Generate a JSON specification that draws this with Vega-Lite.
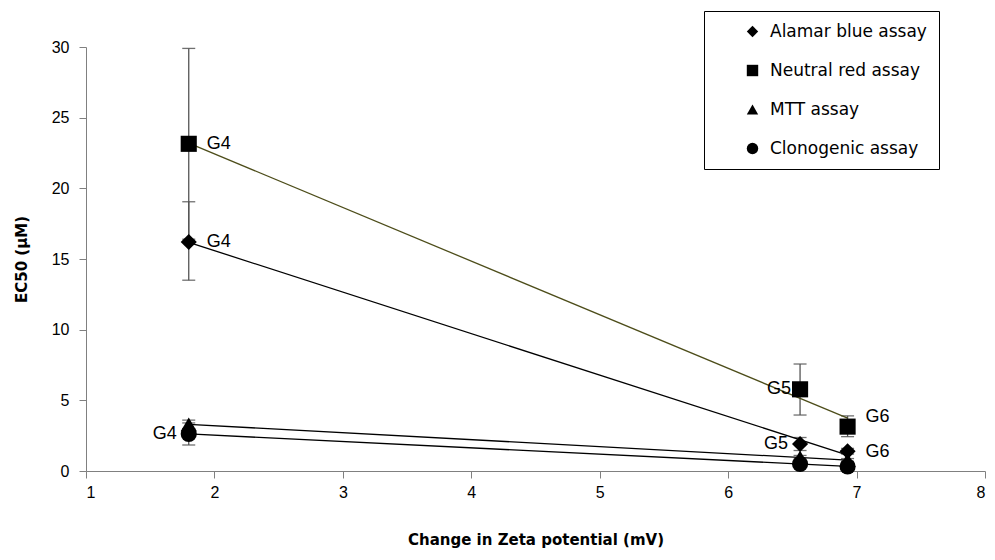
{
  "$schema": "https://vega.github.io/schema/vega-lite/v6.json",
  "width": 899,
  "height": 424,
  "autosize": {"type": "none"},
  "padding": {"left": 86, "top": 47, "right": 10, "bottom": 89},
  "background": "white",
  "config": {
    "view": {"stroke": null},
    "font": "Liberation Sans",
    "axis": {
      "grid": false,
      "domainColor": "#808080",
      "tickColor": "#808080",
      "tickSize": 7,
      "labelFont": "Liberation Sans",
      "labelFontSize": 16,
      "labelColor": "black",
      "titleFont": "DejaVu Sans",
      "titleFontSize": 15,
      "titleFontWeight": "bold",
      "titleColor": "black"
    },
    "legend": {
      "orient": "none",
      "legendX": 618,
      "legendY": -36,
      "strokeColor": "black",
      "fillColor": "white",
      "padding": 12,
      "labelFont": "DejaVu Sans",
      "labelFontSize": 17,
      "labelLimit": 400,
      "labelColor": "black",
      "rowPadding": 21,
      "symbolSize": 130,
      "symbolOffset": 28,
      "symbolFillColor": "black",
      "symbolStrokeColor": "black",
      "symbolStrokeWidth": 0,
      "labelOffset": 9
    }
  },
  "data": {
    "values": [
      {"series": "Alamar blue assay", "group": "G4", "x": 1.8, "y": 16.2, "lo": 13.5, "hi": 19.05},
      {"series": "Alamar blue assay", "group": "G5", "x": 6.56, "y": 1.91, "lo": 1.45, "hi": 2.37},
      {"series": "Alamar blue assay", "group": "G6", "x": 6.93, "y": 1.4, "lo": 1.2, "hi": 1.6},
      {"series": "Neutral red assay", "group": "G4", "x": 1.8, "y": 23.15, "lo": 16.4, "hi": 29.9},
      {"series": "Neutral red assay", "group": "G5", "x": 6.56, "y": 5.78, "lo": 3.96, "hi": 7.57},
      {"series": "Neutral red assay", "group": "G6", "x": 6.93, "y": 3.14, "lo": 2.43, "hi": 3.9},
      {"series": "MTT assay", "group": "G4", "x": 1.8, "y": 3.3, "lo": 3.0, "hi": 3.6},
      {"series": "MTT assay", "group": "G5", "x": 6.56, "y": 0.95, "lo": 0.8, "hi": 1.1},
      {"series": "MTT assay", "group": "G6", "x": 6.93, "y": 0.78, "lo": 0.68, "hi": 0.88},
      {"series": "Clonogenic assay", "group": "G4", "x": 1.8, "y": 2.62, "lo": 1.84, "hi": 3.4},
      {"series": "Clonogenic assay", "group": "G5", "x": 6.56, "y": 0.5, "lo": 0.4, "hi": 0.6},
      {"series": "Clonogenic assay", "group": "G6", "x": 6.93, "y": 0.32, "lo": 0.26, "hi": 0.38}
    ]
  },
  "layer": [
    {
      "mark": {"type": "errorbar", "ticks": {"size": 13, "thickness": 1.3, "color": "#333333"}, "rule": {"strokeWidth": 1.3, "color": "#555555"}},
      "encoding": {
        "x": {
          "field": "x",
          "type": "quantitative",
          "scale": {"domain": [1, 8], "nice": false},
          "axis": {"values": [1, 2, 3, 4, 5, 6, 7, 8], "format": "d", "title": "Change in Zeta potential (mV)", "titlePadding": 32, "labelPadding": 6}
        },
        "y": {
          "field": "lo",
          "type": "quantitative",
          "scale": {"domain": [0, 30], "nice": false},
          "axis": {"values": [0, 5, 10, 15, 20, 25, 30], "format": "d", "title": "EC50 (µM)", "titlePadding": 22, "labelPadding": 10}
        },
        "y2": {"field": "hi"}
      }
    },
    {
      "transform": [
        {"filter": "datum.series == 'Neutral red assay'"},
        {"regression": "y", "on": "x"}
      ],
      "mark": {"type": "line", "strokeWidth": 1.3, "color": "#4d4d1a"},
      "encoding": {
        "x": {"field": "x", "type": "quantitative"},
        "y": {"field": "y", "type": "quantitative"}
      }
    },
    {
      "transform": [
        {"filter": "datum.series != 'Neutral red assay'"},
        {"regression": "y", "on": "x", "groupby": ["series"]}
      ],
      "mark": {"type": "line", "strokeWidth": 1.3, "color": "black"},
      "encoding": {
        "x": {"field": "x", "type": "quantitative"},
        "y": {"field": "y", "type": "quantitative"},
        "detail": {"field": "series"}
      }
    },
    {
      "mark": {"type": "point", "filled": true, "opacity": 1, "color": "black", "size": 260},
      "encoding": {
        "x": {"field": "x", "type": "quantitative"},
        "y": {"field": "y", "type": "quantitative"},
        "shape": {
          "field": "series",
          "type": "nominal",
          "scale": {
            "domain": ["Alamar blue assay", "Neutral red assay", "MTT assay", "Clonogenic assay"],
            "range": ["diamond", "square", "triangle-up", "circle"]
          },
          "legend": {"title": null, "labelExpr": "datum.label + '\u00a0\u00a0\u00a0\u00a0\u00a0'"}
        }
      }
    },
    {
      "transform": [
        {"filter": "datum.group == 'G4' && (datum.series == 'Neutral red assay' || datum.series == 'Alamar blue assay')"}
      ],
      "mark": {"type": "text", "align": "left", "baseline": "middle", "dx": 18, "fontSize": 18, "font": "Liberation Sans", "color": "black"},
      "encoding": {
        "x": {"field": "x", "type": "quantitative"},
        "y": {"field": "y", "type": "quantitative"},
        "text": {"field": "group"}
      }
    },
    {
      "transform": [
        {"filter": "datum.group == 'G6' && datum.series == 'Neutral red assay'"}
      ],
      "mark": {"type": "text", "align": "left", "baseline": "middle", "dx": 18, "dy": -10, "fontSize": 18, "font": "Liberation Sans", "color": "black"},
      "encoding": {
        "x": {"field": "x", "type": "quantitative"},
        "y": {"field": "y", "type": "quantitative"},
        "text": {"field": "group"}
      }
    },
    {
      "transform": [
        {"filter": "datum.group == 'G6' && datum.series == 'Alamar blue assay'"}
      ],
      "mark": {"type": "text", "align": "left", "baseline": "middle", "dx": 18, "dy": 1, "fontSize": 18, "font": "Liberation Sans", "color": "black"},
      "encoding": {
        "x": {"field": "x", "type": "quantitative"},
        "y": {"field": "y", "type": "quantitative"},
        "text": {"field": "group"}
      }
    },
    {
      "transform": [
        {"filter": "datum.group == 'G5' && datum.series == 'Neutral red assay'"}
      ],
      "mark": {"type": "text", "align": "right", "baseline": "middle", "dx": -9, "fontSize": 18, "font": "Liberation Sans", "color": "black"},
      "encoding": {
        "x": {"field": "x", "type": "quantitative"},
        "y": {"field": "y", "type": "quantitative"},
        "text": {"field": "group"}
      }
    },
    {
      "transform": [
        {"filter": "(datum.group == 'G5' && datum.series == 'Alamar blue assay') || (datum.group == 'G4' && datum.series == 'Clonogenic assay')"}
      ],
      "mark": {"type": "text", "align": "right", "baseline": "middle", "dx": -12, "fontSize": 18, "font": "Liberation Sans", "color": "black"},
      "encoding": {
        "x": {"field": "x", "type": "quantitative"},
        "y": {"field": "y", "type": "quantitative"},
        "text": {"field": "group"}
      }
    }
  ]
}
